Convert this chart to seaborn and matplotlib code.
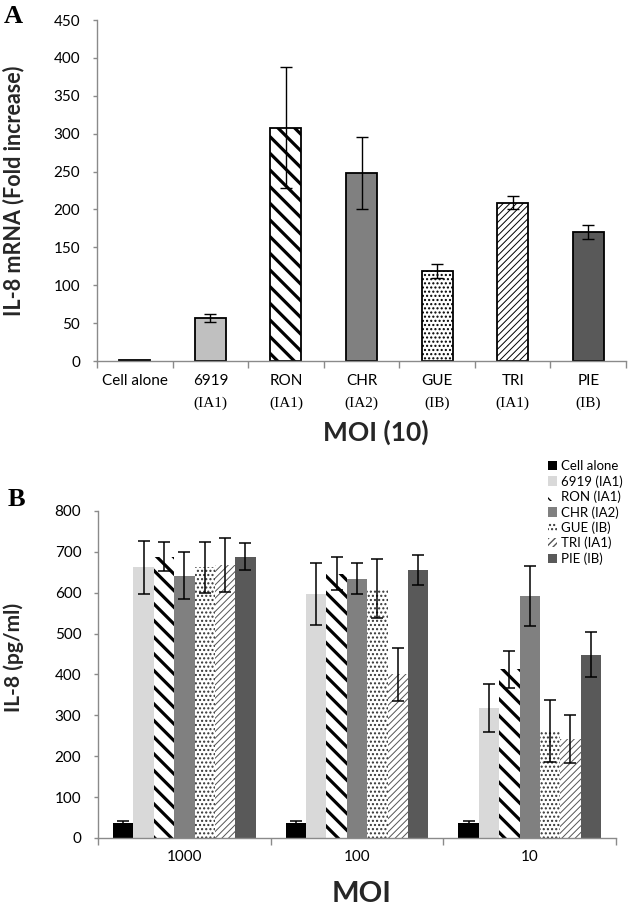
import numpy as np
import pandas as pd
import matplotlib
matplotlib.use("Agg")
import matplotlib.pyplot as plt
import seaborn as sns

# ---------------- Panel A data ----------------
a_strains = ["Cell alone", "6919", "RON", "CHR", "GUE", "TRI", "PIE"]
a_types = ["", "(IA1)", "(IA1)", "(IA2)", "(IB)", "(IA1)", "(IB)"]
a_values = [2, 57, 308, 248, 119, 209, 170]
a_errors = [0, 5, 80, 48, 9, 9, 9.5]
a_yticks = [0, 50, 100, 150, 200, 250, 300, 350, 400, 450]

# ---------------- Panel B data ----------------
b_moi = ["1000", "100", "10"]
b_strains = ["Cell alone", "6919 (IA1)", "RON (IA1)", "CHR (IA2)",
             "GUE (IB)", "TRI (IA1)", "PIE (IB)"]
b_cell = [36, 36, 36]
b_6919 = [662, 597, 318]
b_ron = [688, 647, 413]
b_chr = [642, 634, 592]
b_gue = [662, 610, 262]
b_tri = [668, 400, 242]
b_pie = [688, 656, 448]
e_cell = [6, 6, 6]
e_6919 = [64, 75, 58]
e_ron = [35, 41, 45]
e_chr = [57, 38, 74]
e_gue = [63, 73, 75]
e_tri = [65, 65, 58]
e_pie = [33, 37, 55]
b_yticks = [0, 100, 200, 300, 400, 500, 600, 700, 800]

b_vals = [b_cell, b_6919, b_ron, b_chr, b_gue, b_tri, b_pie]
b_errs = [e_cell, e_6919, e_ron, e_chr, e_gue, e_tri, e_pie]

# ---------------- styles ----------------
sns.set_theme(style="ticks")
SANS = ["Lato", "DejaVu Sans"]
SERIF = ["Liberation Serif", "DejaVu Serif"]
plt.rcParams["font.family"] = SANS
plt.rcParams["text.color"] = "black"
SPINE = "#8a8a8a"

a_face = ["black", "#c0c0c0", "white", "#808080", "white", "white", "#595959"]
a_hatch = [None, None, "\\\\", None, "....", "/////", None]
a_hlw = [1, 1, 2.3, 1, 1.0, 0.7, 1]

b_face = ["black", "#d9d9d9", "white", "#808080", "white", "white", "#595959"]
b_hatch = [None, None, "\\\\", None, "....", "/////", None]
b_hcol = ["black", "black", "black", "black", "#333333", "#555555", "black"]
b_hlw = [1, 1, 2.3, 1, 1.0, 0.7, 1]

fig = plt.figure(figsize=(6.28, 9.06), dpi=100)
axA = fig.add_axes([0.1545, 0.6015, 0.8423, 0.3764])
axB = fig.add_axes([0.156, 0.0751, 0.825, 0.3609])


def style_axis(ax, yticks, n_slots):
    ax.set_ylim(yticks[0], yticks[-1])
    ax.set_yticks(yticks)
    ax.set_xlim(-0.5, n_slots - 0.5)
    ax.set_xticks(np.arange(-0.5, n_slots, 1.0), minor=True)
    for s in ["top", "right"]:
        ax.spines[s].set_visible(False)
    for s in ["left", "bottom"]:
        ax.spines[s].set_color(SPINE)
        ax.spines[s].set_linewidth(1.0)
    ax.tick_params(axis="y", length=3, color=SPINE, width=1, pad=9,
                   labelsize=11, labelcolor="black")
    ax.tick_params(axis="x", which="major", length=0, pad=9,
                   labelsize=11, labelcolor="black")
    ax.tick_params(axis="x", which="minor", length=5, color=SPINE, width=1)
    ax.set_facecolor("white")


def set_hlw(p, lw):
    if hasattr(p, "set_hatch_linewidth"):
        p.set_hatch_linewidth(lw)


# ---------------- Panel A ----------------
dfa = pd.DataFrame({"strain": a_strains, "value": a_values})
sns.barplot(data=dfa, x="strain", y="value", hue="strain", order=a_strains,
            hue_order=a_strains, palette=a_face, legend=False, width=0.41,
            saturation=1, errorbar=None, edgecolor="black", linewidth=1.3,
            ax=axA)
barsA = sorted(axA.patches, key=lambda p: p.get_x())
cxA = []
for i, p in enumerate(barsA):
    p.set_facecolor(a_face[i])
    p.set_edgecolor("black")
    p.set_linewidth(1.3)
    if a_hatch[i]:
        p.set_hatch(a_hatch[i])
        set_hlw(p, a_hlw[i])
    cxA.append(p.get_x() + p.get_width() / 2)
idx = [i for i in range(len(a_values)) if a_errors[i] > 0]
axA.errorbar([cxA[i] for i in idx], [a_values[i] for i in idx],
             yerr=[a_errors[i] for i in idx], fmt="none", ecolor="black",
             elinewidth=1.0, capsize=4, capthick=1.0, zorder=5)
style_axis(axA, a_yticks, len(a_strains))
axA.set_xticks(range(len(a_strains)))
axA.set_xticklabels(a_strains)
for i, t in enumerate(a_types):
    if t:
        axA.annotate(t, xy=(i, 0), xycoords=("data", "axes fraction"),
                     xytext=(0, -30.5), textcoords="offset points",
                     ha="center", va="center", fontsize=11, family=SERIF)
axA.set_ylabel("IL-8 mRNA (Fold increase)", fontsize=15.5, fontweight="bold")
axA.yaxis.set_label_coords(-0.138, 0.50)
axA.set_xlabel("MOI (10)", fontsize=19, fontweight="bold")
axA.xaxis.label.set_va("center")
axA.xaxis.set_label_coords(0.527, -0.208)

# ---------------- Panel B ----------------
rows = []
for s, vals in zip(b_strains, b_vals):
    for m, v in zip(b_moi, vals):
        rows.append({"moi": m, "strain": s, "value": v})
dfb = pd.DataFrame(rows)
sns.barplot(data=dfb, x="moi", y="value", hue="strain", order=b_moi,
            hue_order=b_strains, palette=b_face, width=0.826, gap=0,
            saturation=1, errorbar=None, legend=False, linewidth=0, ax=axB)
barsB = sorted(axB.patches, key=lambda p: p.get_x())
ns = len(b_strains)
cx, cy, ce = [], [], []
for k, p in enumerate(barsB):
    g, h = k // ns, k % ns
    p.set_facecolor(b_face[h])
    p.set_edgecolor(b_hcol[h])
    p.set_linewidth(0)
    if b_hatch[h]:
        p.set_hatch(b_hatch[h])
        set_hlw(p, b_hlw[h])
    cx.append(p.get_x() + p.get_width() / 2)
    cy.append(b_vals[h][g])
    ce.append(b_errs[h][g])
axB.errorbar(cx, cy, yerr=ce, fmt="none", ecolor="black", elinewidth=1.1,
             capsize=4, capthick=1.1, zorder=5)
style_axis(axB, b_yticks, len(b_moi))
axB.set_xticks(range(len(b_moi)))
axB.set_xticklabels(b_moi)
axB.set_ylabel("IL-8 (pg/ml)", fontsize=15, fontweight="bold")
axB.yaxis.set_label_coords(-0.143, 0.553)
axB.set_xlabel("MOI", fontsize=21, fontweight="bold")
axB.xaxis.label.set_va("center")
axB.xaxis.set_label_coords(0.508, -0.171)

handles = barsB[:ns]
fig.legend(handles, b_strains, loc="upper left",
           bbox_to_anchor=(0.872, 0.492), bbox_transform=fig.transFigure,
           frameon=False, fontsize=9.5, handlelength=0.7, handleheight=0.7,
           handletextpad=0.3, labelspacing=0.22, borderpad=0,
           borderaxespad=0)

# panel letters
fig.text(0.006, 0.9945, "A", family=SERIF, fontweight="bold", fontsize=19,
         va="top", ha="left")
fig.text(0.012, 0.4614, "B", family=SERIF, fontweight="bold", fontsize=19,
         va="top", ha="left")

fig.savefig("out.png", dpi=100, facecolor="white")
